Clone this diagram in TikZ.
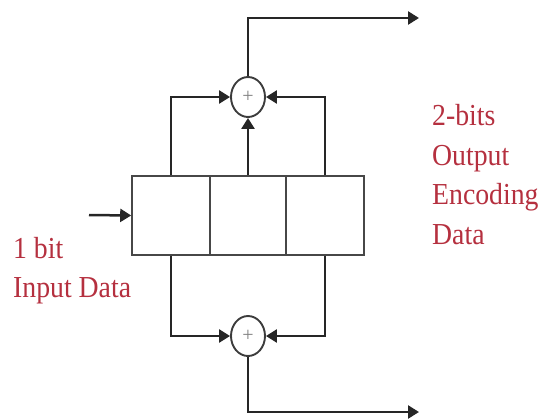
\documentclass[tikz,border=0pt]{standalone}
\usepackage{fontspec}
\setmainfont{Liberation Serif}
\newfontfamily\lblfont[FakeStretch=0.91]{Liberation Serif}
\usetikzlibrary{arrows.meta,shapes.geometric,calc}
\definecolor{lbl}{HTML}{B5303F}
\definecolor{ink}{HTML}{262626}
\tikzset{
  cell/.style={draw=ink!85,line width=1.6pt,rectangle,minimum height=79pt,inner sep=0pt},
  adder/.style={draw=ink!90,line width=1.9pt,ellipse,minimum width=34pt,minimum height=40pt,inner sep=0pt,fill=white,text=black!50,font=\fontsize{20}{20}\selectfont},
  wire/.style={draw=ink,line width=2.5pt},
  flow/.style={wire,-{Triangle[length=11pt,width=13pt]}},
  lab/.style={anchor=base west,inner sep=0pt,text=lbl,font=\lblfont\fontsize{30.5}{32}\selectfont}
}
\begin{document}
\begin{tikzpicture}[x=1pt,y=-1pt]
\useasboundingbox (0,0) rectangle (538,418);
\node[cell,minimum width=78pt] (r1) at (171,215.5) {};
\node[cell,minimum width=76pt] (r2) at (248,215.5) {};
\node[cell,minimum width=78pt] (r3) at (325,215.5) {};
\node[adder] (top) at (248,97) {+};
\node[adder] (bot) at (248,336) {+};
\coordinate (in) at (89,215);
\coordinate (outa) at (419,18);
\coordinate (outb) at (419,412);
\draw[flow] (in) -- (r1.west);
\draw[flow] (r1.north) |- (top.west);
\draw[flow] (r3.north) |- (top.east);
\draw[flow] (r2.north) -- (top.south);
\draw[flow] (top.north) |- (outa);
\draw[flow] (r1.south) |- (bot.west);
\draw[flow] (r3.south) |- (bot.east);
\draw[flow] (bot.south) |- (outb);
\node[lab] (l1) at (13,258) {1 bit};
\node[lab] (l2) at (13,297) {Input Data};
\node[lab] (l3) at (432,125) {2-bits};
\node[lab] (l4) at (432,165) {Output};
\node[lab] (l5) at (432,204) {Encoding};
\node[lab] (l6) at (432,244) {Data};
\end{tikzpicture}
\end{document}
